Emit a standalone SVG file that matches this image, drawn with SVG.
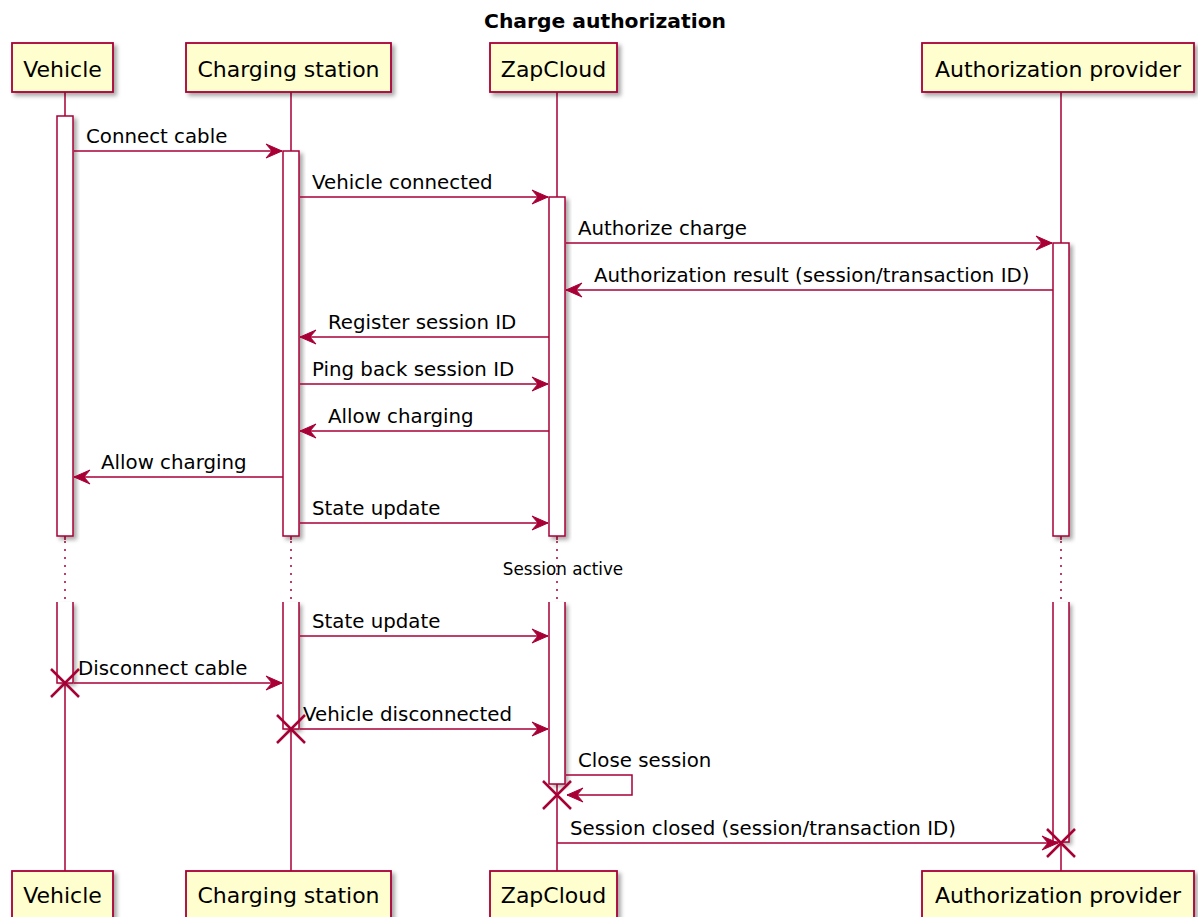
<svg xmlns="http://www.w3.org/2000/svg" width="1198" height="917" viewBox="0 0 1198 917">
<style>
.box{fill:#FEFECE;stroke:#A80036;stroke-width:1.8;filter:url(#sh)}
.pt{font-family:"DejaVu Sans",sans-serif;font-size:22px;fill:#000;text-anchor:middle}
.life{stroke:#A80036;stroke-width:1.5;fill:none}
.dot{stroke:#A80036;stroke-width:1.5;stroke-dasharray:2,6;fill:none}
.act{fill:#fff;stroke:#A80036;stroke-width:1.5;filter:url(#sh)}
.actl{fill:#fff;stroke:none;filter:url(#sh)}
.msg{stroke:#A80036;stroke-width:1.5;fill:none;marker-end:url(#ah)}
.mt{font-family:"DejaVu Sans",sans-serif;font-size:19.8px;fill:#000}
.x{stroke:#A80036;stroke-width:2.5;fill:none}
</style>
<defs>
<filter id="sh" x="-20%" y="-20%" width="160%" height="160%">
<feDropShadow dx="3" dy="3" stdDeviation="2" flood-color="#000" flood-opacity="0.35"/>
</filter>
<marker id="ah" markerUnits="userSpaceOnUse" markerWidth="20" markerHeight="18" viewBox="-19 -9 20 18" refX="0" refY="0" orient="auto">
<path d="M0,0 L-16,-7 L-10,0 L-16,7 Z" fill="#A80036" stroke="#A80036" stroke-width="1"/>
</marker>
</defs>
<rect width="1198" height="917" fill="#fff"/>
<text x="605" y="28" font-family="DejaVu Sans,sans-serif" font-size="20.3" font-weight="bold" text-anchor="middle">Charge authorization</text>

<g id="lifelines">
<path class="life" d="M65,92V540M65,602V871M291,92V540M291,602V871M557,92V540M557,602V871M1061,92V540M1061,602V871"/>
<path class="dot" d="M65,541V602M291,541V602M557,541V602M1061,541V602"/>
</g>

<g id="participant-vehicle">
<rect class="box" x="12" y="43" width="101" height="49"/>
<text class="pt" x="62.5" y="77">Vehicle</text>
<rect class="box" x="12" y="871" width="101" height="49"/>
<text class="pt" x="62.5" y="903">Vehicle</text>
</g>
<g id="participant-charging-station">
<rect class="box" x="186" y="43" width="205" height="49"/>
<text class="pt" x="288.5" y="77">Charging station</text>
<rect class="box" x="186" y="871" width="205" height="49"/>
<text class="pt" x="288.5" y="903">Charging station</text>
</g>
<g id="participant-zapcloud">
<rect class="box" x="490" y="43" width="127" height="49"/>
<text class="pt" x="553.5" y="77">ZapCloud</text>
<rect class="box" x="490" y="871" width="127" height="49"/>
<text class="pt" x="553.5" y="903">ZapCloud</text>
</g>
<g id="participant-authorization-provider">
<rect class="box" x="922" y="43" width="272" height="49"/>
<text class="pt" x="1058" y="77">Authorization provider</text>
<rect class="box" x="922" y="871" width="272" height="49"/>
<text class="pt" x="1058" y="903">Authorization provider</text>
</g>

<g id="activations">
<rect class="act" x="57" y="116" width="16" height="420"/>
<rect class="act" x="283" y="151" width="16" height="385"/>
<rect class="act" x="549" y="197" width="16" height="339"/>
<rect class="act" x="1053" y="243" width="16" height="293"/>
<rect class="actl" x="57" y="602" width="16" height="81"/>
<path class="life" d="M57,602V683H73V602"/>
<rect class="actl" x="283" y="602" width="16" height="127"/>
<path class="life" d="M283,602V729H299V602"/>
<rect class="actl" x="549" y="602" width="16" height="182"/>
<path class="life" d="M549,602V784H565V602"/>
<rect class="actl" x="1053" y="602" width="16" height="240"/>
<path class="life" d="M1053,602V842H1069V602"/>
</g>

<g id="connectors">
<path class="msg" d="M74,151H282"/>
<text class="mt" x="86" y="143">Connect cable</text>
<path class="msg" d="M300,197H548"/>
<text class="mt" x="312" y="189">Vehicle connected</text>
<path class="msg" d="M566,243H1052"/>
<text class="mt" x="578" y="235">Authorize charge</text>
<path class="msg" d="M1053,290H566"/>
<text class="mt" x="594" y="282">Authorization result (session/transaction ID)</text>
<path class="msg" d="M549,337H300"/>
<text class="mt" x="328" y="329">Register session ID</text>
<path class="msg" d="M300,384H548"/>
<text class="mt" x="312" y="376">Ping back session ID</text>
<path class="msg" d="M549,431H300"/>
<text class="mt" x="328" y="423">Allow charging</text>
<path class="msg" d="M283,477H74"/>
<text class="mt" x="101" y="469">Allow charging</text>
<path class="msg" d="M300,523H548"/>
<text class="mt" x="312" y="515">State update</text>
<text x="563" y="575" font-family="DejaVu Sans,sans-serif" font-size="16.8" text-anchor="middle">Session active</text>
<path class="msg" d="M300,636H548"/>
<text class="mt" x="312" y="628">State update</text>
<path class="msg" d="M74,683H282"/>
<text class="mt" x="78" y="675">Disconnect cable</text>
<path class="msg" d="M300,729H548"/>
<text class="mt" x="303" y="721">Vehicle disconnected</text>
<path class="msg" d="M566,775H632V795H567"/>
<text class="mt" x="578" y="767">Close session</text>
<path class="msg" d="M557,843H1058"/>
<text class="mt" x="570" y="835">Session closed (session/transaction ID)</text>
</g>

<g id="destroy-marks">
<path class="x" d="M51,669L79,697M79,669L51,697"/>
<path class="x" d="M277,715L305,743M305,715L277,743"/>
<path class="x" d="M543,781L571,809M571,781L543,809"/>
<path class="x" d="M1047,829L1075,857M1075,829L1047,857"/>
</g>
</svg>
